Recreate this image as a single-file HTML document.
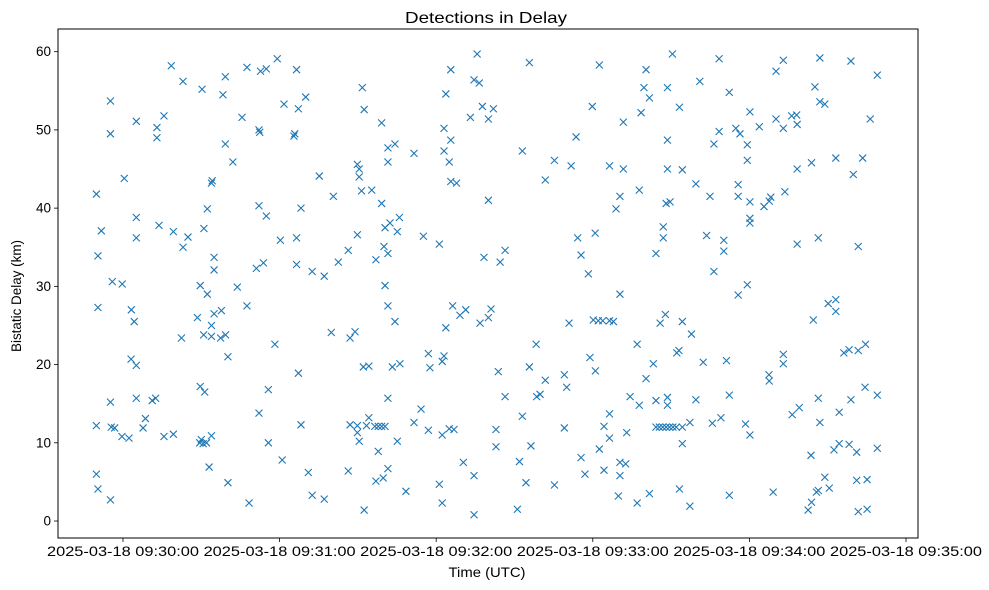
<!DOCTYPE html>
<html><head><meta charset="utf-8">
<style>
html,body{margin:0;padding:0;background:#fff;}
svg{display:block;font-family:"Liberation Sans",sans-serif;}
</style></head>
<body>
<svg id="chart" width="989" height="590" viewBox="0 0 989 590" xmlns="http://www.w3.org/2000/svg">
<rect x="0" y="0" width="989" height="590" fill="#fff"/>
<text x="486" y="23" font-size="16" text-anchor="middle" textLength="162" lengthAdjust="spacingAndGlyphs">Detections in Delay</text>
<g id="marks"></g>
<g id="xaxis"></g>
<g id="yaxis"></g>
<rect x="58" y="29" width="860" height="509" fill="none" stroke="#000" stroke-width="1"/>
<text x="487" y="577" font-size="14" text-anchor="middle" textLength="77" lengthAdjust="spacingAndGlyphs">Time (UTC)</text>
<text transform="translate(21,296) rotate(-90)" font-size="13.5" text-anchor="middle" textLength="112" lengthAdjust="spacingAndGlyphs">Bistatic Delay (km)</text>
</svg>
<script>
// seconds after 2025-03-18 09:30:00
const times = [18.5,23.0,30.3,39.2,38.3,47.5,52.7,54.9,-4.8,5.1,15.7,13.0,13.0,-4.8,45.6,52.1,52.4,39.2,42.1,0.5,33.9,34.2,-10.2,32.3,52.1,54.9,5.1,-8.3,5.1,13.8,19.3,24.9,23.0,31.0,-9.6,34.9,34.9,51.1,53.8,-4.1,-0.3,29.6,32.3,43.8,-9.6,3.2,4.3,47.5,28.5,34.9,37.7,33.9,30.9,33.9,37.4,39.3,22.4,40.2,3.1,5.1,29.6,31.3,55.7,-4.8,5.1,11.2,12.5,52.1,8.6,7.7,-10.2,-4.5,-3.2,-0.4,2.3,15.7,19.3,29.4,30.7,32.0,30.0,33.9,55.7,33.0,-10.2,-9.6,-4.8,40.2,48.3,
59.1,66.5,91.7,61.7,67.2,70.0,65.5,65.8,75.2,89.8,90.5,90.5,91.4,95.3,92.4,99.1,80.6,101.5,104.2,101.5,111.5,123.0,125.6,123.0,125.0,125.6,127.8,123.7,125.6,135.7,134.5,136.5,133.1,68.2,99.1,60.3,66.5,66.5,72.5,77.1,82.5,86.3,89.8,100.4,102.3,105.9,105.1,100.0,101.5,96.9,115.1,121.2,100.4,101.5,104.2,123.7,126.3,129.1,131.3,58.2,79.8,87.0,88.9,67.2,92.1,94.2,103.2,106.1,117.0,117.6,123.0,122.3,101.5,114.2,111.5,117.0,122.3,125.0,126.8,68.2,87.0,89.8,89.8,90.5,94.2,93.3,96.5,97.8,99.1,100.4,97.8,105.1,61.0,71.0,86.3,96.9,99.7,101.5,72.5,77.1,92.4,108.4,121.2,122.3,130.4,134.5,134.5,
155.7,182.5,200.4,210.5,199.6,201.7,208.6,137.7,141.9,140.0,179.8,191.7,198.5,213.2,173.6,208.6,153.0,165.3,171.7,186.4,191.7,208.6,214.3,161.8,197.8,190.4,188.9,140.0,208.1,209.6,207.0,207.0,174.2,180.9,175.5,204.2,146.4,144.5,138.3,178.3,190.4,141.0,140.0,136.8,170.9,180.2,182.1,183.8,186.4,187.9,205.8,207.8,214.3,158.3,197.0,178.9,181.0,203.2,200.4,212.2,213.0,143.8,155.7,161.8,169.1,170.0,146.4,158.5,159.8,194.3,197.8,204.2,208.6,208.6,153.0,186.4,184.3,186.4,193.0,142.9,169.1,142.9,156.3,204.2,205.5,206.8,208.1,209.4,210.7,212.0,214.3,214.3,182.5,151.9,175.5,190.4,192.6,177.0,184.3,190.4,154.4,165.3,151.1,189.8,197.0,201.7,213.2,
228.4,253.0,250.2,267.0,278.9,289.0,221.0,232.3,265.1,267.0,268.9,240.2,250.2,256.2,258.1,258.3,253.0,243.8,234.8,236.4,228.4,226.4,239.2,239.2,286.3,258.3,263.8,273.1,283.4,279.8,219.5,224.9,235.7,235.7,240.2,245.6,247.6,248.2,253.6,240.2,240.2,223.6,230.2,230.2,258.3,266.4,281.7,226.4,235.7,239.2,264.5,270.2,273.1,273.1,217.8,222.3,231.2,253.0,253.0,247.5,247.6,276.2,278.2,281.7,284.5,219.5,232.3,217.2,225.8,229.1,238.5,240.2,256.4,259.1,266.4,267.0,274.4,278.9,284.3,289.0,263.6,272.4,274.4,278.2,281.1,289.0,268.9,266.4,265.7,270.6,281.1,285.1,232.3,249.1,262.5,263.8,281.7,285.1,217.2];
const delays = [58.2,56.2,55.2,56.8,54.5,58.0,57.5,57.8,53.7,51.1,51.8,50.3,49.0,49.5,51.6,50.0,49.7,48.2,45.9,43.8,43.2,43.5,41.8,39.9,40.3,39.0,38.8,37.1,36.2,37.8,37.0,36.3,35.0,37.4,33.9,33.7,32.1,32.3,33.0,30.6,30.3,30.1,29.0,29.9,27.3,27.0,25.5,27.5,26.0,26.5,26.9,25.0,23.8,23.6,23.4,23.8,23.4,21.0,20.7,19.9,17.2,16.5,16.8,15.2,15.7,15.4,15.7,13.8,13.1,11.9,12.2,12.0,11.9,10.8,10.6,10.8,11.1,10.0,9.9,10.0,10.4,10.9,10.0,6.9,6.0,4.1,2.7,4.9,2.3,
59.1,57.7,55.4,53.3,52.7,54.2,49.2,49.5,44.1,45.6,45.0,44.0,42.2,42.3,52.6,50.9,41.5,47.7,48.2,45.9,47.0,50.2,48.7,47.3,45.9,43.4,43.2,54.6,57.7,59.7,56.4,56.0,51.6,40.0,40.6,35.9,36.2,32.8,31.9,31.3,33.1,34.6,36.6,37.5,38.1,38.8,37.0,35.1,34.2,33.4,36.4,35.4,30.1,27.5,25.5,24.7,27.5,26.3,27.0,22.6,24.1,23.4,24.2,18.9,19.7,19.8,19.7,20.1,21.4,19.6,21.1,20.4,15.7,14.3,12.6,11.6,11.0,11.8,11.7,12.3,12.3,12.2,11.3,10.2,13.2,12.2,12.1,12.1,12.1,12.1,8.9,10.2,7.8,6.2,6.4,5.1,5.5,6.7,3.3,2.8,1.4,3.8,4.7,2.3,7.5,5.8,0.8,
58.6,58.3,57.7,59.7,55.4,54.1,55.4,53.0,52.7,51.4,53.0,51.0,52.2,52.9,49.1,48.7,47.3,46.1,45.4,45.4,45.0,45.0,44.9,43.6,42.3,41.5,39.9,41.0,40.6,40.8,37.6,36.2,36.2,36.8,34.0,34.2,34.6,33.1,33.7,31.6,29.0,27.1,26.0,25.3,25.3,25.7,25.6,25.6,25.6,25.5,25.3,26.4,25.5,22.6,22.6,20.9,19.2,20.1,18.2,21.5,21.8,19.1,19.7,18.0,18.7,17.1,15.9,15.9,16.2,15.9,14.8,15.4,15.8,14.8,13.4,13.7,12.1,10.6,11.3,11.7,11.9,9.5,9.6,12.0,12.0,12.0,12.0,12.0,12.0,12.0,12.0,9.9,9.2,7.6,8.1,7.5,7.3,6.0,6.5,5.8,4.9,4.6,1.5,3.2,2.3,3.5,4.1,
59.1,58.9,57.5,59.2,58.8,57.0,56.2,54.8,55.5,53.6,53.3,52.3,51.4,51.8,51.9,50.7,50.2,50.4,50.2,49.5,49.8,48.2,48.1,46.1,51.4,45.0,45.8,46.4,46.4,44.3,43.1,41.5,43.0,41.5,40.8,40.2,40.9,41.4,42.1,38.7,38.1,36.5,35.9,34.5,35.4,36.2,35.1,31.9,28.9,30.2,25.7,27.8,28.3,26.8,23.9,20.3,20.5,21.3,20.1,18.7,17.9,21.5,21.9,21.8,22.6,15.5,16.1,12.6,12.5,13.2,12.4,11.0,13.6,14.5,15.7,12.6,13.9,15.5,17.1,16.1,8.4,9.1,9.9,9.8,8.8,9.3,5.6,3.9,3.7,4.2,5.2,5.3,3.3,3.7,1.4,2.4,1.2,1.5,1.9];
const xTickSecs = [0,60,120,180,240,300];
const xTickLabels = ["2025-03-18 09:30:00","2025-03-18 09:31:00","2025-03-18 09:32:00","2025-03-18 09:33:00","2025-03-18 09:34:00","2025-03-18 09:35:00"];
const yTicks = [0,10,20,30,40,50,60];

const L=58,R=918,T=29,B=538;
const xMin=-24.9,xMax=304.6,yMin=-2.17,yMax=62.9;
function xs(v){return L+(v-xMin)/(xMax-xMin)*(R-L);}
function ys(v){return B-(v-yMin)/(yMax-yMin)*(B-T);}
const NS="http://www.w3.org/2000/svg";
function mk(tag,attrs,parent){const e=document.createElementNS(NS,tag);for(const k in attrs)e.setAttribute(k,attrs[k]);parent.appendChild(e);return e;}

const marks=document.getElementById('marks');
const n=Math.min(times.length,delays.length);
for(let i=0;i<n;i++){
  const cx=xs(times[i]),cy=ys(delays[i]),r=3.5;
  const p=mk('path',{d:`M${cx-r},${cy-r}L${cx+r},${cy+r}M${cx-r},${cy+r}L${cx+r},${cy-r}`,stroke:'#1f77b4','stroke-width':'1.1',fill:'none'},marks);
  
  
}
const xa=document.getElementById('xaxis');
xTickSecs.forEach((s,i)=>{
  const x=xs(s);
  const l=mk('line',{x1:x,x2:x,y1:B,y2:B+4,stroke:'#000','stroke-width':'0.8'},xa);
  
  
  const t=mk('text',{x:x,y:B+18,'font-size':'13.5','text-anchor':'middle',textLength:'152',lengthAdjust:'spacingAndGlyphs'},xa);
  t.textContent=xTickLabels[i];
  
  
});
const ya=document.getElementById('yaxis');
yTicks.forEach(v=>{
  const y=ys(v);
  const l=mk('line',{x1:L-4,x2:L,y1:y,y2:y,stroke:'#000','stroke-width':'0.8'},ya);
  
  
  const t=mk('text',{x:L-7,y:y+4.5,'font-size':'13.5','text-anchor':'end'},ya);
  t.textContent=String(v);
  
  
});
</script>
</body></html>
